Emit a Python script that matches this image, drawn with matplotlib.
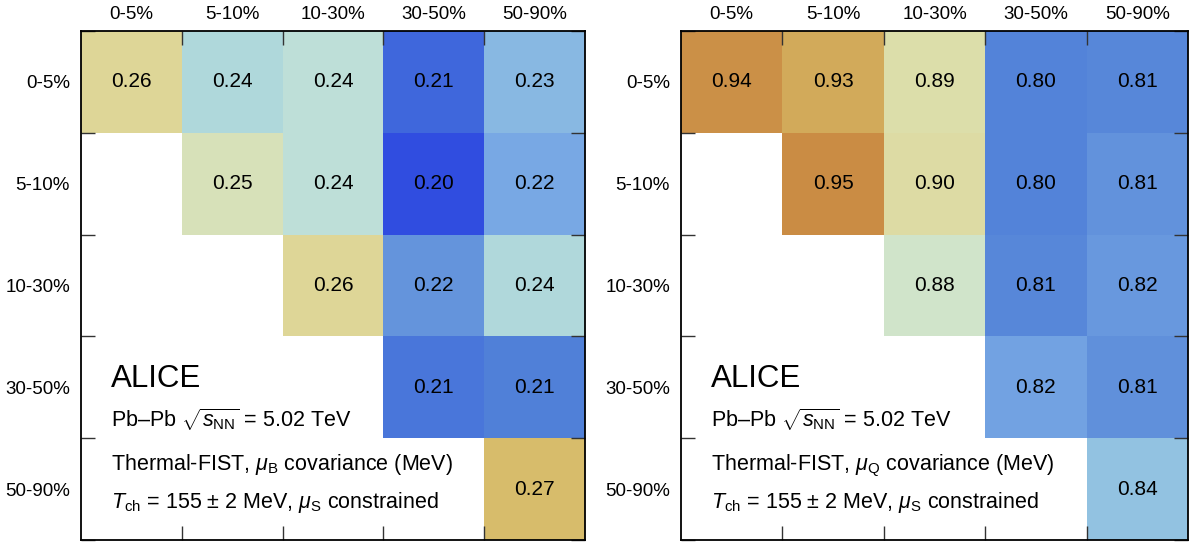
import numpy as np
import matplotlib
matplotlib.use("Agg")
import matplotlib.pyplot as plt
from matplotlib.colors import LinearSegmentedColormap, Normalize

plt.rcParams['font.family'] = ['Liberation Sans', 'DejaVu Sans']
plt.rcParams['mathtext.fontset'] = 'custom'
plt.rcParams['mathtext.rm'] = 'Liberation Sans'
plt.rcParams['mathtext.it'] = 'Liberation Sans:italic'
plt.rcParams['mathtext.bf'] = 'Liberation Sans:bold'

centralities = ["0-5%", "5-10%", "10-30%", "30-50%", "50-90%"]
nan = np.nan

# correlation-like values (upper triangle), rows = y categories (top to bottom)
mu_b_values = [
    [0.2615, 0.2394, 0.2431, 0.2062, 0.2295],
    [nan,    0.2523, 0.2431, 0.2018, 0.2246],
    [nan,    nan,    0.2615, 0.2185, 0.2400],
    [nan,    nan,    nan,    0.2098, 0.2123],
    [nan,    nan,    nan,    nan,    0.2690],
]
mu_q_values = [
    [0.943, 0.931, 0.893, 0.803, 0.806],
    [nan,   0.948, 0.897, 0.803, 0.813],
    [nan,   nan,   0.878, 0.806, 0.817],
    [nan,   nan,   nan,   0.824, 0.812],
    [nan,   nan,   nan,   nan,   0.844],
]
mu_b_range = (0.200, 0.280)
mu_q_range = (0.775, 0.945)

palette = ["#2A44E2", "#4068DC", "#5080D8", "#6494DC", "#78A8E4", "#8CBCE2",
           "#A4D2DE", "#BEDFD8", "#D2E4C8", "#DCDEAA", "#DED697", "#D8C170",
           "#D2A858", "#CA8C44"]
cmap = LinearSegmentedColormap.from_list("lighttemp", palette)

fig = plt.figure(figsize=(11.92, 5.45), dpi=100)

W, H = 1192, 545
panels = [
    (mu_b_values, mu_b_range, r"$\mu_{\rm B}$", (81, 31, 585, 540)),
    (mu_q_values, mu_q_range, r"$\mu_{\rm Q}$", (681, 31, 1188, 540)),
]

for values, vrange, mulabel, (x0, y0, x1, y1) in panels:
    ax = fig.add_axes([x0 / W, 1 - y1 / H, (x1 - x0) / W, (y1 - y0) / H])
    arr = np.ma.masked_invalid(np.array(values, dtype=float))
    n = len(centralities)
    ax.pcolormesh(np.arange(n + 1), np.arange(n + 1), arr, cmap=cmap,
                  norm=Normalize(*vrange), shading='flat', edgecolors='none')
    ax.set_xlim(0, n)
    ax.set_ylim(n, 0)
    for i in range(n):
        for j in range(n):
            v = values[i][j]
            if not np.isnan(v):
                ax.text(j + 0.5, i + 0.5, f"{v:.2f}", ha='center', va='center',
                        fontsize=15, color='black')
    # major ticks at boundaries, labels at centers via minor ticks
    ax.set_xticks(np.arange(1, n))
    ax.set_yticks(np.arange(0, n + 1))
    ax.set_xticklabels([])
    ax.set_yticklabels([])
    ax.set_xticks(np.arange(n) + 0.5, minor=True)
    ax.set_yticks(np.arange(n) + 0.5, minor=True)
    ax.set_xticklabels(centralities, minor=True, fontsize=13.5)
    ax.set_yticklabels(centralities, minor=True, fontsize=13.5)
    ax.tick_params(which='major', direction='in', length=10, width=1.0,
                   color='#333333', top=True, bottom=True, left=True, right=True)
    ax.tick_params(which='minor', length=0, pad=8)
    ax.tick_params(axis='x', which='minor', labeltop=True, labelbottom=False, pad=6)
    for s in ax.spines.values():
        s.set_linewidth(1.3)

    ax.text(0.06, 0.30, "ALICE", transform=ax.transAxes, fontsize=22.5,
            ha='left', va='baseline')
    ax.text(0.06, 0.222, r"Pb–Pb $\sqrt{s_{\rm NN}}$ = 5.02 TeV",
            transform=ax.transAxes, fontsize=15.5, ha='left', va='baseline')
    ax.text(0.06, 0.1375, "Thermal-FIST, " + mulabel + " covariance (MeV)",
            transform=ax.transAxes, fontsize=15.5, ha='left', va='baseline')
    ax.text(0.06, 0.063, r"$T_{\rm ch}$ = 155 ± 2 MeV, $\mu_{\rm S}$ constrained",
            transform=ax.transAxes, fontsize=15.5, ha='left', va='baseline')

fig.savefig("out.png", dpi=100)
